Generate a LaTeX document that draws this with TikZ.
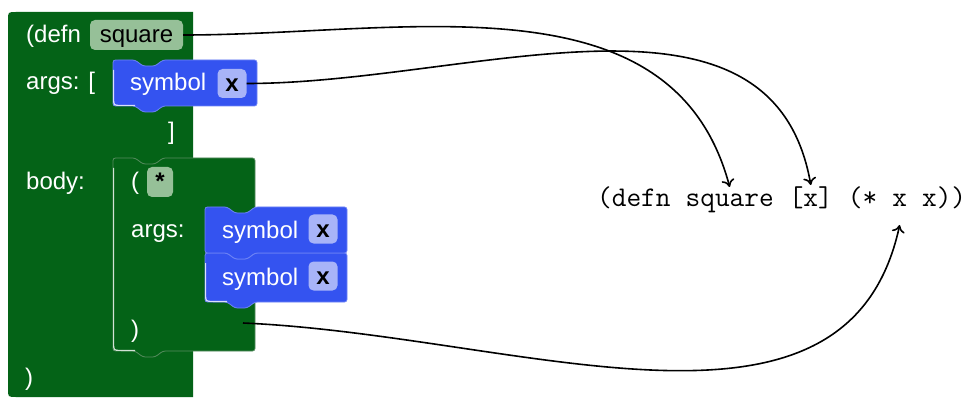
\documentclass[tikz,border=0pt]{standalone}
\usepackage{fontspec}
\setmainfont{Liberation Sans}
\usetikzlibrary{arrows.meta}

\definecolor{blkgreen}{RGB}{4,99,23}
\definecolor{greenedge}{RGB}{88,140,96}
\definecolor{blkblue}{RGB}{52,83,240}
\definecolor{blueedge}{RGB}{110,132,246}
\definecolor{fieldgreen}{RGB}{150,192,152}
\definecolor{fieldblue}{RGB}{168,180,248}

\newcommand\blkfont{\fontsize{24}{28}\selectfont}
\newcommand\codefont{\fontsize{28.5}{32}\selectfont\ttfamily}
\newlength\codew
\AtBeginDocument{\settowidth{\codew}{\codefont x}}

% statement block: left, top, right, bottom, style
% (rounded left corners, notch on top, tab below)
\newcommand\stmtblock[5]{%
  \path[#5, rounded corners=2.5pt]
    (#1,#4-8) -- (#1,#2+8) .. controls (#1,#2) .. (#1+8,#2)
    -- (#1+22,#2) -- (#1+30,#2+6) -- (#1+42,#2+6) -- (#1+50,#2)
    -- (#3,#2) -- (#3,#4)
    -- (#1+50,#4) -- (#1+42,#4+6) -- (#1+30,#4+6) -- (#1+22,#4)
    -- (#1+8,#4) .. controls (#1,#4) .. (#1,#4-8) -- cycle;}
% light edge along the left and bottom of a block
\newcommand\blkshine[3]{%
  \draw[white, opacity=0.8, line width=1.2pt]
    (#1+0.6,#2+10) -- (#1+0.6,#3-8) .. controls (#1+0.6,#3-0.6) .. (#1+8,#3-0.6)
    -- (#1+22,#3-0.6);}

\begin{document}
\begin{tikzpicture}[x=1pt, y=-1pt,
  lbl/.style={text=white, font=\blkfont, anchor=base west, inner sep=0pt},
  field/.style={rounded corners=5pt, inner sep=0pt, minimum height=30pt,
    text height=18pt, text depth=2pt, font=\blkfont},
  gfield/.style={field, fill=fieldgreen},
  bfield/.style={field, fill=fieldblue, minimum width=29pt, minimum height=29pt,
    font=\blkfont\bfseries},
  code/.style={anchor=base west, inner sep=0pt, font=\codefont},
  conn/.style={draw, line width=1.6pt,
    -{Computer Modern Rightarrow[length=7.5pt,width=13pt]}}]
\useasboundingbox (0,0) rectangle (969,398);

% outer defn block
\fill[blkgreen] (8,389) -- (8,20) .. controls (8,12) .. (16,12)
  -- (193,12) -- (193,397) -- (16,397) .. controls (8,397) .. (8,389) -- cycle;

% body: the (* ...) block
\stmtblock{113}{158}{255}{351}{fill=blkgreen, draw=greenedge, line width=0.8pt}
\blkshine{113}{158}{351}

% symbol blocks
\stmtblock{113}{60}{257}{106}{fill=blkblue, draw=blueedge, line width=0.8pt}
\blkshine{113}{60}{106}
\stmtblock{205}{253}{347}{302}{fill=blkblue, draw=blueedge, line width=0.8pt}
\blkshine{205}{253}{302}
\stmtblock{205}{207}{347}{253}{fill=blkblue, draw=blueedge, line width=0.8pt}

% fields
\node[gfield, minimum width=93pt] (sq) at (136.5,35) {square};
\node[gfield, minimum width=26pt, font=\blkfont\bfseries] (op) at (160,182) {*};
\node[bfield] (x1) at (232,83.5) {x};
\node[bfield] (x2) at (323,229) {x};
\node[bfield] (x3) at (323,276) {x};

% block labels
\node[lbl] (kwDefn) at (26,43) {(defn};
\node[lbl] (kwArgs) at (26,90) {args: [};
\node[lbl] (sym1) at (130,91) {symbol};
\node[lbl] (kwClose) at (168,140) {]};
\node[lbl] (kwBody) at (26,190) {body:};
\node[lbl] (opOpen) at (131,190) {(};
\node[lbl] (opArgs) at (131,237) {args:};
\node[lbl] (sym2) at (222,238) {symbol};
\node[lbl] (sym3) at (222,285) {symbol};
\node[lbl] (opClose) at (131,337) {)};
\node[lbl] (defnClose) at (25,385) {)};

% the generated code, one node per token
\node[code] (cDefn) at (597,207) {(defn};
\node[code] (cSq) at ([xshift=\codew]cDefn.base east) {square};
\node[code] (cArg) at ([xshift=\codew]cSq.base east) {[x]};
\node[code] (cMul) at ([xshift=\codew]cArg.base east) {(*};
\node[code] (cX1) at ([xshift=\codew]cMul.base east) {x};
\node[code] (cX2) at ([xshift=\codew]cX1.base east) {x))};

% connectors
\coordinate (mulEnd) at (243,323);
\draw[conn] (sq.east) .. controls +(221,0) and +(-57,-214) .. ([yshift=20pt]cSq.base);
\draw[conn] (x1.east) .. controls +(224,0) and +(-39,-221) .. ([yshift=2pt]cArg.north);
\draw[conn] (mulEnd) .. controls +(277,12) and +(-53,244) .. ([yshift=-18pt]cX1.base);
\end{tikzpicture}
\end{document}
